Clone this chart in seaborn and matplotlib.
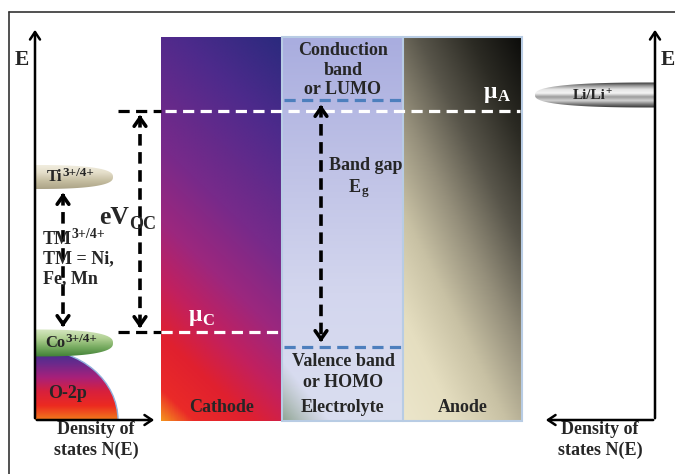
import numpy as np
import pandas as pd
import matplotlib.pyplot as plt
import seaborn as sns
from matplotlib.colors import LinearSegmentedColormap
from matplotlib.patches import Ellipse, Rectangle, Polygon

sns.set_theme(style="white")
plt.rcParams['font.family'] = ['Liberation Serif', 'DejaVu Serif']
plt.rcParams['font.weight'] = 'bold'
plt.rcParams['mathtext.fontset'] = 'stix'

# layout in picture units (y grows downwards), energy levels as y positions
panel_names = ["Cathode", "Electrolyte", "Anode"]
panel_left = [161, 282, 403]
panel_right = [282, 403, 522]
panel_top, panel_bottom = 37, 421

mu_A = 111       # anode chemical potential / Li/Li+
mu_C = 332       # cathode chemical potential
lumo = 100
homo = 347
ti_level = 177
co_level = 343
li_level = 95

fig = plt.figure(figsize=(6.75, 4.74), dpi=100)
ax = fig.add_axes([0, 0, 1, 1])
ax.set_xlim(0, 675)
ax.set_ylim(474, 0)


def grad_image(x0, x1, y0, y1, colors, mode, n=200, clip=None, z=1):
    u = np.linspace(0, 1, n)[None, :].repeat(n, 0)
    v = np.linspace(0, 1, n)[:, None].repeat(n, 1)
    if mode == "v":
        t = v
    else:
        a, b = mode
        t = np.clip((a * v + b * (1 - u)) / (a + b), 0, 1)
    cmap = LinearSegmentedColormap.from_list("g", colors)
    im = ax.imshow(cmap(t), extent=(x0, x1, y1, y0), origin="upper",
                   aspect="auto", zorder=z, interpolation="bilinear")
    if clip is not None:
        ax.add_patch(clip)
        im.set_clip_path(clip)
    return im


def pill(xc, yc, a, b, side, n=2.6):
    # superellipse half: side=+1 keeps the right half, -1 the left half
    th = np.linspace(-np.pi / 2, np.pi / 2, 100)
    xs = a * np.abs(np.cos(th)) ** (2 / n) * side
    ys = b * np.sign(np.sin(th)) * np.abs(np.sin(th)) ** (2 / n)
    pts = np.column_stack([xc + xs, yc + ys])
    return Polygon(pts, closed=True, transform=ax.transData, fc="none", ec="none")


# outer frame
ax.plot([9, 9], [474, 12], color="#333333", lw=1.2)
ax.plot([9, 675], [12, 12], color="#333333", lw=1.2)

# cathode, electrolyte, anode blocks
cathode_colors = [(0.0, "#2b2a7e"), (0.2, "#4e2a8c"), (0.45, "#782a8a"), (0.6, "#9c277e"),
                  (0.72, "#c2205e"), (0.83, "#e0202f"), (0.94, "#ea2a28"), (1.0, "#f4901e")]
grad_image(161, 282, panel_top, panel_bottom, cathode_colors, (1.0, 0.3))
grad_image(282, 403, panel_top, panel_bottom,
           ["#a9addf", "#bfc2e6", "#d3d6ee", "#dadef0"], "v")
grad_image(282, 330, 360, panel_bottom,
           [(0.85, 0.87, 0.94, 0), (0.6, 0.66, 0.6, 0.0), (0.5, 0.6, 0.5, 0.85)], (0.9, 0.9), z=1.5)
grad_image(403, 522, panel_top, panel_bottom,
           ["#0c0c0a", "#2c2b24", "#58554a", "#948e7a", "#c8c1a4", "#e5dec0", "#ece6cb"], (0.8, 0.5))
ax.add_patch(Rectangle((282, panel_top), 240, panel_bottom - panel_top, fill=False,
                       ec="#b8cce4", lw=1.5, zorder=2))
ax.plot([403, 403], [panel_top, panel_bottom], color="#b8cce4", lw=1.5, zorder=2)

# energy levels
levels = pd.DataFrame({
    "x": [165, 520, 118, 161, 161, 282, 118, 161, 284, 403, 284, 403],
    "y": [mu_A, mu_A, mu_A, mu_A, mu_C, mu_C, mu_C, mu_C, lumo, lumo, homo, homo],
    "seg": ["muA", "muA", "kA", "kA", "muC", "muC", "kC", "kC", "lumo", "lumo", "homo", "homo"],
})
seg_color = {"muA": "white", "kA": "black", "muC": "white", "kC": "black",
             "lumo": "#4d7fbd", "homo": "#4d7fbd"}
for seg, d in levels.groupby("seg"):
    sns.lineplot(data=d, x="x", y="y", ax=ax, color=seg_color[seg], lw=2.3,
                 linestyle=(0, (3.5, 2)), legend=False, zorder=3)


def dashed_arrow(x, ya, yb):
    ax.plot([x, x], [ya + 4, yb - 4], color="black", lw=2.6,
            linestyle=(0, (3.2, 1.8)), zorder=4)
    head = dict(arrowstyle="->,head_length=0.5,head_width=0.35", lw=2.6, color="black")
    ax.annotate("", xy=(x, ya), xytext=(x, ya + 10), arrowprops=head, zorder=4)
    ax.annotate("", xy=(x, yb), xytext=(x, yb - 10), arrowprops=head, zorder=4)


dashed_arrow(140, mu_A + 1, mu_C - 1)
dashed_arrow(321, lumo + 2, homo - 2)
dashed_arrow(63, ti_level + 13, co_level - 13)

# density-of-states axes
ax_head = dict(arrowstyle="->,head_length=0.45,head_width=0.3", lw=1.8, color="black")
ax.annotate("", xy=(35, 27), xytext=(35, 421), arrowprops=ax_head, zorder=6)
ax.annotate("", xy=(157, 420), xytext=(34, 420), arrowprops=ax_head, zorder=6)
ax.annotate("", xy=(655, 27), xytext=(655, 421), arrowprops=ax_head, zorder=6)
ax.annotate("", xy=(543, 420), xytext=(656, 420), arrowprops=ax_head, zorder=6)

# O-2p band
o2p = Ellipse((35, 420), 166, 142, transform=ax.transData, fc="none", ec="none")
grad_image(35, 118, 349, 420, ["#36308c", "#6a2a8c", "#a8207a", "#d8203c", "#ec2a20", "#f07a1c"],
           "v", clip=o2p, z=2)
edge = Ellipse((35, 420), 166, 142, fc="none", ec="#8fb0dd", lw=1, zorder=2.5)
ax.add_patch(edge)
edge.set_clip_path(Rectangle((35, 340), 90, 80, transform=ax.transData))

# Ti, Co and Li/Li+ states
grad_image(35, 114, ti_level - 13, ti_level + 13, ["#f3efe2", "#e4dec9", "#c4bc9f", "#a8a084"],
           "v", clip=pill(35, ti_level, 78, 12, 1), z=2)
grad_image(35, 114, co_level - 14, co_level + 14, ["#d6e7c2", "#b0d092", "#74a95e", "#3f7f35"],
           "v", clip=pill(35, co_level, 78, 13.5, 1), z=2.6)
grad_image(534, 655, li_level - 13, li_level + 13,
           ["#2e2e2e", "#9a9a9a", "#e6e6e6", "#f4f4f4", "#9c9c9c", "#d2d2d2", "#7a7a7a", "#2e2e2e"],
           "v", clip=pill(655, li_level, 120, 12.5, -1), z=2)

fig.canvas.draw()
renderer = fig.canvas.get_renderer()


def sup_text(x, y, base, sup, fs, sfs, dy=-5, gap=0, **kw):
    t = ax.text(x, y, base, fontsize=fs, ha="left", va="center", zorder=5, **kw)
    bb = t.get_window_extent(renderer).transformed(ax.transData.inverted())
    ax.text(max(bb.x0, bb.x1) + gap, y + dy, sup, fontsize=sfs, ha="left", va="center",
            zorder=5, **kw)


# labels
fs = 13
ax.text(22, 60, "E", fontsize=15.5, ha="center", va="center")
ax.text(668, 60, "E", fontsize=15.5, ha="center", va="center")
ax.text(96, 440, "Density of\nstates N(E)", fontsize=fs, ha="center", va="center", linespacing=1.25)
ax.text(600, 440, "Density of\nstates N(E)", fontsize=fs, ha="center", va="center", linespacing=1.25)
ax.text(343, 70, "Conduction\nband\nor LUMO", fontsize=fs, ha="center", va="center", linespacing=1.22)
ax.text(343, 372, "Valence band\nor HOMO", fontsize=fs, ha="center", va="center", linespacing=1.25)
for name, l, r in zip(panel_names, panel_left, panel_right):
    ax.text((l + r) / 2, 407, name, fontsize=fs, ha="center", va="center", zorder=5)
ax.text(329, 165, "Band gap", fontsize=fs, ha="left", va="center", zorder=5)
sup_text(349, 187, "E", "g", fs, 9.5, dy=4)
sup_text(99, 217, "eV", "OC", 18.5, 13, dy=7)
sup_text(484, 92, "μ", "A", 17, 12, dy=5, color="white")
sup_text(189, 316, "μ", "C", 17, 12, dy=5, color="white")
sup_text(47, ti_level, "Ti", "3+/4+", 12, 9.5, dy=-4)
sup_text(45, co_level, "Co", "3+/4+", 12, 9.5, dy=-4)
sup_text(573, li_level, "Li/Li", "+", 11, 8, dy=-4)
ax.text(68, 394, "O-2p", fontsize=fs, ha="center", va="center", zorder=5)
sup_text(43, 239, "TM", "3+/4+", fs, 10, dy=-5)
ax.text(43, 259, "TM = Ni,", fontsize=fs, ha="left", va="center", zorder=5)
ax.text(43, 279, "Fe, Mn", fontsize=fs, ha="left", va="center", zorder=5)

ax.set_xlim(0, 675)
ax.set_ylim(474, 0)
ax.axis("off")
fig.savefig("out.png", dpi=100)
